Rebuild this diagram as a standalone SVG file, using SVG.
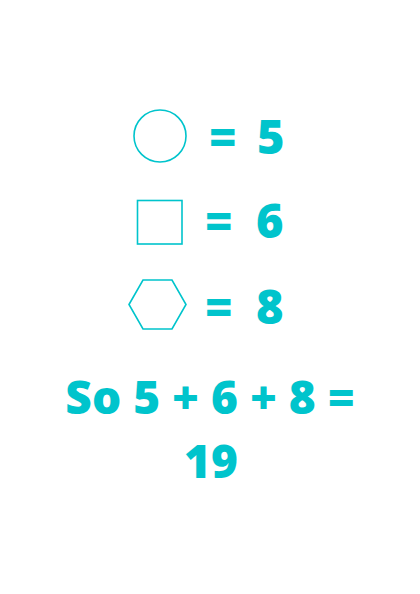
<svg xmlns="http://www.w3.org/2000/svg" width="420" height="594" viewBox="0 0 420 594">
<style>
.shape{fill:none;stroke:#00C4CC;stroke-width:1.6}
.t{font-family:"Open Sans","Noto Sans",sans-serif;font-weight:800;fill:#00C4CC}
.row{font-size:47px}
.big{font-size:46px;text-anchor:middle}
</style>
<rect width="420" height="594" fill="#ffffff"/>
<g id="row1">
<circle class="shape" cx="160" cy="136" r="26"/>
<text class="t row" x="209" y="154">=</text>
<text class="t row" x="257" y="154">5</text>
</g>
<g id="row2">
<rect class="shape" x="137.5" y="200.5" width="44.5" height="43.5"/>
<text class="t row" x="205" y="238">=</text>
<text class="t row" x="256" y="238">6</text>
</g>
<g id="row3">
<polygon class="shape" points="129,304.5 143,280 172,280 186,304.5 172,329 143,329"/>
<text class="t row" x="205" y="324">=</text>
<text class="t row" x="256" y="324">8</text>
</g>
<g id="result">
<text class="t big" x="210" y="414">So 5 + 6 + 8 =</text>
<text class="t big" x="211" y="478">19</text>
</g>
</svg>
